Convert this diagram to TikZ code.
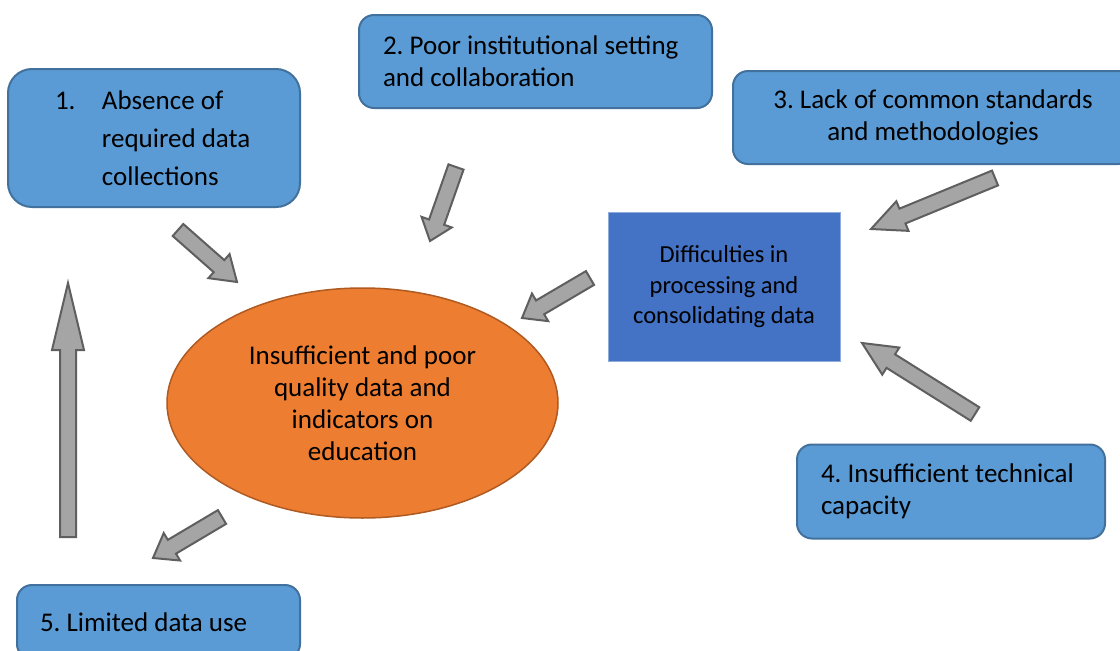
\documentclass[tikz,border=0pt]{standalone}
\usepackage{fontspec}
\setmainfont{Carlito}
\usetikzlibrary{positioning,calc,shapes.geometric}
\frenchspacing
\hyphenpenalty=10000

\definecolor{boxblue}{HTML}{5B9BD5}
\definecolor{boxedge}{HTML}{41719C}
\definecolor{coreblue}{HTML}{4472C4}
\definecolor{coreedge}{HTML}{8FAADC}
\definecolor{ovalfill}{HTML}{ED7D31}
\definecolor{ovaledge}{HTML}{AE5A21}
\definecolor{arrowgray}{HTML}{A5A5A5}
\definecolor{arrowedge}{HTML}{5F5F5F}

\tikzset{
  probbox/.style={draw=boxedge, fill=boxblue, line width=2pt, rounded corners=#1,
    inner xsep=0pt, inner ysep=0pt, align=flush left,
    font=\fontsize{27}{32}\selectfont},
  probbox/.default=15pt,
  blockarrow/.style={draw=arrowedge, fill=arrowgray, line width=2pt, line join=miter},
}

% block arrow: tail, tip, head length
\newcommand{\blockarrow}[3]{%
  \path ($(#2)!#3!(#1)$) coordinate (hb);
  \draw[blockarrow] ($(#1)!8pt!90:(#2)$) -- ($(hb)!8pt!-90:(#1)$) -- ($(hb)!16pt!-90:(#1)$)
    -- (#2) -- ($(hb)!16pt!90:(#1)$) -- ($(hb)!8pt!90:(#1)$) -- ($(#1)!8pt!-90:(#2)$) -- cycle;
}

\begin{document}
\begin{tikzpicture}[x=1pt, y=-1pt]
	\path[use as bounding box, fill=white] (0,0) rectangle (1120,651);

	\node[ellipse, draw=ovaledge, fill=ovalfill, line width=1.5pt, inner sep=0pt,
		minimum width=391, minimum height=230, align=center,
		font=\fontsize{27}{32}\selectfont] (quality) at (362.5,403)
		{Insufficient and poor\\quality data and\\indicators on\\education};

	\node[draw=coreedge, fill=coreblue, line width=1pt, minimum width=232, minimum height=149,
		inner sep=0pt, align=center, font=\fontsize{24.5}{30.5}\selectfont] (process) at (724,287)
		{Difficulties in\\processing and\\consolidating data};

	\node[probbox=24pt, minimum width=292, minimum height=138, text width=198,
		font=\fontsize{27}{38}\selectfont] (absence) at (154,138)
		{\makebox[47pt][l]{1.}\mbox{Absence of}\\\hspace*{47pt}\mbox{required data}\\\hspace*{47pt}\mbox{collections}};
	\node[probbox, minimum width=353, minimum height=93, text width=305] (setting) at (535.5,61.5)
		{2. Poor institutional setting\\and collaboration};
	\node[probbox, minimum width=400, minimum height=93, text width=360, align=flush center] (standards) at (933,117.5)
		{3. Lack of common standards\\and methodologies};
	\node[probbox, minimum width=308, minimum height=94, text width=260] (capacity) at (951,491.5)
		{4. Insufficient technical\\capacity};
	\node[probbox, minimum width=283, minimum height=74, text width=237] (datause) at (158.5,622)
		{5. Limited data use};

	% arrow ends
	\coordinate (a1t) at (178,230);  \coordinate (a1h) at (237,282);
	\coordinate (a2t) at (456,167);  \coordinate (a2h) at (430,241);
	\coordinate (a3t) at (995,178);  \coordinate (a3h) at (871,229);
	\coordinate (a4t) at (975,414);  \coordinate (a4h) at (862,343);
	\coordinate (a5t) at (590,278);  \coordinate (a5h) at (522,318);
	\coordinate (a6t) at (222,517);  \coordinate (a6h) at (153,558);
	\coordinate (a7t) at (68,537);   \coordinate (a7h) at (68,283);

	\blockarrow{a1t}{a1h}{24pt}
	\blockarrow{a2t}{a2h}{20pt}
	\blockarrow{a3t}{a3h}{34pt}
	\blockarrow{a4t}{a4h}{34pt}
	\blockarrow{a5t}{a5h}{21pt}
	\blockarrow{a6t}{a6h}{22pt}
	\blockarrow{a7t}{a7h}{67pt}
\end{tikzpicture}
\end{document}
